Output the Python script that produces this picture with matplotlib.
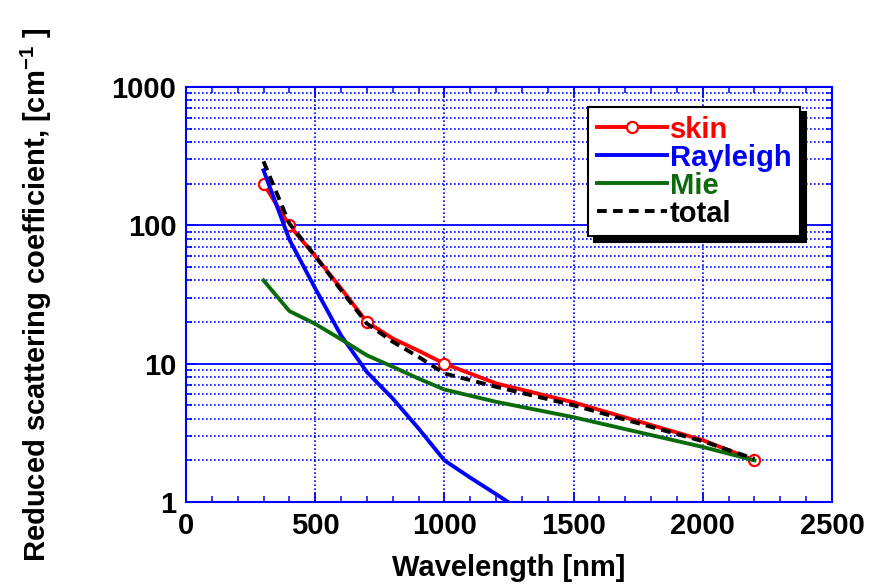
import numpy as np
import matplotlib
matplotlib.use("Agg")
import matplotlib.pyplot as plt
from matplotlib.ticker import FixedLocator, NullFormatter, LogLocator

plt.rcParams['font.family'] = ['Liberation Sans', 'DejaVu Sans']
plt.rcParams['font.weight'] = 'bold'
plt.rcParams['mathtext.fontset'] = 'custom'
plt.rcParams['mathtext.bf'] = 'Liberation Sans:bold'
plt.rcParams['mathtext.rm'] = 'Liberation Sans:bold'
plt.rcParams['mathtext.default'] = 'bf'

# values
skin_wl = [300, 400, 500, 600, 700, 800, 900, 1000, 1200, 1500, 2000, 2200]
skin_mus = [200, 100, 60, 35, 20, 15.2, 12.4, 10, 7.2, 5.25, 2.8, 2.0]
skin_marks = [0, 1, 4, 7, 11]

ray_wl = [300, 400, 500, 600, 700, 800, 900, 1000, 1100, 1200, 1300]
ray_mus = [250, 79, 35, 16, 8.7, 5.6, 3.4, 2.0, 1.5, 1.14, 0.86]

mie_wl = [300, 400, 500, 600, 700, 800, 900, 1000, 1200, 1500, 2000, 2200]
mie_mus = [40, 24, 19.4, 15, 11.5, 9.5, 7.8, 6.5, 5.3, 4.1, 2.5, 2.0]

tot_wl = [300, 400, 500, 600, 700, 800, 900, 1000, 1200, 1500, 2000, 2200]
tot_mus = [290, 103, 60, 34, 19.5, 14.4, 11.2, 8.5, 6.8, 5.0, 2.75, 2.05]

blue = '#0000ff'
green = '#0b6b0b'

fig = plt.figure(figsize=(8.73, 5.88), dpi=100)
ax = fig.add_axes([186/873, 86/588, 646/873, 415/588])

ax.plot(skin_wl, skin_mus, color='red', lw=2.8, marker='o', ms=8, mfc='white',
        mec='red', mew=1.6, markevery=skin_marks, label='skin', zorder=3)
ax.plot(ray_wl, ray_mus, color=blue, lw=2.8, label='Rayleigh', zorder=3)
ax.plot(mie_wl, mie_mus, color=green, lw=2.8, label='Mie', zorder=3)
ax.plot(tot_wl, tot_mus, color='black', lw=2.8, dashes=(2.5, 1.6), label='total', zorder=4)

ax.set_yscale('log')
ax.set_xlim(0, 2500)
ax.set_ylim(1, 1000)

ax.xaxis.set_major_locator(FixedLocator([0, 500, 1000, 1500, 2000, 2500]))
ax.xaxis.set_minor_locator(FixedLocator(np.arange(0, 2501, 100)))
ax.yaxis.set_major_locator(FixedLocator([1, 10, 100, 1000]))
ax.yaxis.set_minor_locator(LogLocator(base=10, subs=np.arange(2, 10)))
ax.yaxis.set_minor_formatter(NullFormatter())
ax.set_yticklabels(['1', '10', '100', '1000'])

ax.grid(True, which='major', axis='y', color=blue, lw=1.3, ls='-')
ax.grid(True, which='minor', axis='y', color=blue, lw=1.2, dashes=(1, 1.4))
ax.grid(True, which='major', axis='x', color=blue, lw=1.2, dashes=(1, 1.4))
ax.set_axisbelow(True)

for s in ax.spines.values():
    s.set_color(blue)
    s.set_linewidth(1.5)

ax.tick_params(which='both', direction='in', top=True, right=True, color=blue,
               labelsize=21, pad=7)
ax.tick_params(which='major', length=7, width=1.3)
ax.tick_params(which='minor', length=4, width=1.1)

ax.set_xlabel('Wavelength [nm]', fontsize=21, fontweight='bold')
ax.set_ylabel(r'Reduced scattering coefficient, [cm$^{-1}$ ]', fontsize=21,
              fontweight='bold')
ax.xaxis.set_label_coords(0.5, -0.125)
ax.yaxis.set_label_coords(-0.205, 0.5)

shadow = {'ox': 4, 'oy': -4, 'facecolor': 'black', 'edgecolor': 'black', 'alpha': 1}
leg = ax.legend(loc='upper right', bbox_to_anchor=(0.9505, 0.952), borderaxespad=0,
                fontsize=21, handlelength=2.4, handletextpad=0.1, labelspacing=0.0,
                borderpad=0.3, numpoints=1, fancybox=False, framealpha=1,
                edgecolor='black', labelcolor='linecolor', shadow=shadow)
leg.get_frame().set_linewidth(1.5)
leg.set_zorder(10)

fig.savefig('out.png', dpi=100)
